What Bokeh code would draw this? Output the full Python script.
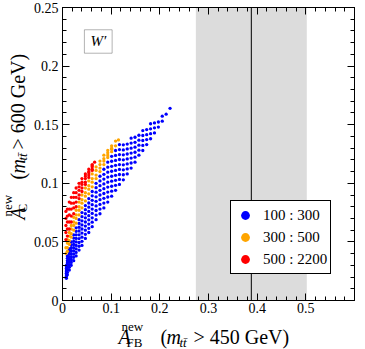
import math
from bokeh.plotting import figure
from bokeh.layouts import column, row
from bokeh.models import (BoxAnnotation, Span, Label, LinearAxis, SingleIntervalTicker,
                          NumeralTickFormatter, Range1d)
from bokeh.embed import file_html
from bokeh.resources import INLINE

FONT = "Liberation Serif"

# ---------------- data ----------------
# W' mass range 100 : 300 GeV  (blue) -- dotted curves of the scan, x grid shared
blue_grid = [0.008, 0.010, 0.014, 0.018, 0.023, 0.028, 0.034, 0.040, 0.047, 0.054, 0.061,
             0.069, 0.077, 0.085, 0.093, 0.101, 0.109, 0.117, 0.125, 0.133, 0.141, 0.149,
             0.157, 0.165, 0.173, 0.181, 0.189, 0.197, 0.205, 0.213, 0.221]
blue_rows = [
    [0.019, 0.022, 0.026, 0.030, 0.034, 0.038, 0.043, 0.047, 0.053, 0.058, 0.063, 0.069, 0.074,
     0.079, 0.084, 0.089, 0.094, 0.099, 0.103, 0.108, 0.113, 0.118, 0.124, 0.128, 0.133, 0.138,
     0.143, 0.148, 0.153, 0.159, 0.164],
    [0.0204, 0.024, 0.0283, 0.0325, 0.0368, 0.041, 0.0463, 0.0505, 0.0565, 0.0616, 0.0668,
     0.0729, 0.078, 0.0831, 0.0883, 0.0933, 0.0983, 0.1033, 0.1073, 0.1123, 0.1173, 0.1223,
     0.1283, 0.1323, 0.1373, 0.1423, 0.1473, 0.1523, 0.1573],
    [0.0218, 0.026, 0.0305, 0.035, 0.0395, 0.044, 0.0495, 0.054, 0.060, 0.0652, 0.0705, 0.0768,
     0.082, 0.0872, 0.0925, 0.0975, 0.1025, 0.1075, 0.1115, 0.1165, 0.1215, 0.1265, 0.1325,
     0.1365, 0.1415, 0.1465, 0.1515],
    [0.0232, 0.028, 0.0328, 0.0375, 0.0423, 0.047, 0.0528, 0.0575, 0.0635, 0.0688, 0.0743,
     0.0807, 0.086, 0.0913, 0.0968, 0.1018, 0.1068, 0.1118, 0.1158, 0.1208, 0.1258, 0.1308,
     0.1368, 0.1408, 0.1458, 0.1508],
    [0.0246, 0.030, 0.035, 0.040, 0.045, 0.050, 0.056, 0.061, 0.067, 0.0724, 0.078, 0.0846,
     0.090, 0.0954, 0.101, 0.106, 0.111, 0.116, 0.120, 0.125, 0.130, 0.135, 0.141, 0.145],
    [0.026, 0.032, 0.0373, 0.0425, 0.0478, 0.053, 0.0593, 0.0645, 0.0705, 0.076, 0.0818,
     0.0885, 0.094, 0.0995, 0.1053, 0.1103, 0.1153, 0.1203, 0.1243, 0.1293, 0.1343, 0.1393],
    [0.0274, 0.034, 0.0395, 0.045, 0.0505, 0.056, 0.0625, 0.068, 0.074, 0.0796, 0.0855,
     0.0924, 0.098, 0.1036, 0.1095, 0.1145, 0.1195, 0.1245, 0.1285, 0.1335, 0.1385],
    [0.0288, 0.036, 0.0418, 0.0475, 0.0533, 0.059, 0.0658, 0.0715, 0.0775, 0.0832, 0.0893,
     0.0963, 0.102, 0.1077, 0.1138, 0.1188, 0.1238, 0.1288, 0.1328],
    [0.030, 0.038, 0.044, 0.050, 0.056, 0.062, 0.069, 0.075, 0.081, 0.087, 0.093, 0.100,
     0.106, 0.112, 0.118, 0.123, 0.128, 0.133],
]

# W' mass range 300 : 500 GeV (orange)
orange_grid = [0.010, 0.014, 0.018, 0.023, 0.028, 0.034, 0.040, 0.047, 0.054, 0.061, 0.069,
               0.077, 0.085, 0.093, 0.101, 0.109, 0.115]
orange_rows = [
    [0.042, 0.048, 0.054, 0.060, 0.066, 0.073, 0.079, 0.085, 0.091, 0.097, 0.104, 0.110,
     0.116, 0.122, 0.127, 0.132, 0.137],
    [0.045, 0.051, 0.057, 0.064, 0.070, 0.077, 0.083, 0.089, 0.095, 0.101, 0.107, 0.113,
     0.119, 0.124, 0.129],
    [0.049, 0.055, 0.061, 0.067, 0.073, 0.080, 0.086, 0.092, 0.098, 0.104, 0.111, 0.116,
     0.121, 0.126, 0.130],
    [0.052, 0.058, 0.064, 0.071, 0.077, 0.084, 0.090, 0.096, 0.102, 0.108, 0.114, 0.119,
     0.124, 0.128, 0.132, 0.136],
]
orange_edge_x = [0.007, 0.007]
orange_edge_y = [0.040, 0.045]

# W' mass range 500 : 2200 GeV (red)
red_grid = [0.010, 0.014, 0.018, 0.023, 0.028, 0.034, 0.040, 0.047, 0.054, 0.061, 0.066]
red_rows = [
    [0.055, 0.061, 0.067, 0.074, 0.080, 0.087, 0.093, 0.099, 0.105, 0.111],
    [0.061, 0.067, 0.072, 0.079, 0.084, 0.090, 0.096, 0.101, 0.107, 0.112],
    [0.067, 0.073, 0.078, 0.083, 0.088, 0.094, 0.099, 0.104, 0.109, 0.114],
    [0.072, 0.078, 0.083, 0.088, 0.092, 0.097, 0.101, 0.106, 0.110, 0.115],
    [0.078, 0.084, 0.088, 0.092, 0.096, 0.100, 0.104, 0.108, 0.112, 0.116, 0.118],
]
red_edge_x = [0.007, 0.007, 0.007, 0.007, 0.007]
red_edge_y = [0.052, 0.058, 0.064, 0.070, 0.076]

legend_labels = ["100 : 300", "300 : 500", "500 : 2200"]
colors = ["#0000ff", "#ffa500", "#ff0000"]

# measured A_FB^new band (m_tt > 450 GeV)
afb_center = 0.388
afb_low = 0.274
afb_high = 0.502


def flatten(grid, rows):
    xs, ys = [], []
    for r in rows:
        for x, y in zip(grid, r):
            xs.append(x)
            ys.append(y)
    return xs, ys


bx, by = flatten(blue_grid, blue_rows)
ox, oy = flatten(orange_grid, orange_rows)
ox += orange_edge_x
oy += orange_edge_y
rx, ry = flatten(red_grid, red_rows)
rx += red_edge_x
ry += red_edge_y

# ---------------- layout sizes ----------------
W, H = 365, 349
YT_W = 30          # strip for the rotated y title
MAIN_H = 318       # main plot height (incl. tick labels)
XT_H = H - MAIN_H  # strip for the x title

# ---------------- main figure ----------------
p = figure(width=W - YT_W, height=MAIN_H, x_range=Range1d(0, 0.6), y_range=Range1d(0, 0.25),
           output_backend="svg", toolbar_location=None, title=None,
           min_border_left=60 - YT_W, min_border_right=11, min_border_top=7,
           min_border_bottom=MAIN_H - 300)
p.xgrid.visible = False
p.ygrid.visible = False
p.outline_line_color = "black"
p.outline_line_width = 1
p.background_fill_color = "white"
p.border_fill_color = "white"


def style_axis(ax, show_labels=True, standoff=4):
    ax.axis_line_color = "black"
    ax.major_tick_in = 7
    ax.major_tick_out = 0
    ax.minor_tick_in = 4
    ax.minor_tick_out = 0
    ax.major_tick_line_color = "black"
    ax.minor_tick_line_color = "black"
    ax.major_label_text_font = FONT
    if show_labels:
        ax.major_label_text_color = "black"
        ax.major_label_text_font_size = "14px"
        ax.major_label_standoff = standoff
    else:
        ax.major_label_text_color = None
        ax.major_label_text_font_size = "1px"
        ax.major_label_standoff = 0


xa = p.xaxis[0]
xa.ticker = SingleIntervalTicker(interval=0.1, num_minor_ticks=5)
xa.formatter = NumeralTickFormatter(format="0.[0]")
style_axis(xa, True, 2)
ya = p.yaxis[0]
ya.ticker = SingleIntervalTicker(interval=0.05, num_minor_ticks=5)
ya.formatter = NumeralTickFormatter(format="0.[00]")
style_axis(ya, True, 4)

top_ax = LinearAxis(ticker=SingleIntervalTicker(interval=0.1, num_minor_ticks=5))
style_axis(top_ax, False)
p.add_layout(top_ax, "above")
right_ax = LinearAxis(ticker=SingleIntervalTicker(interval=0.05, num_minor_ticks=5))
style_axis(right_ax, False)
p.add_layout(right_ax, "right")

# measurement band and central value
p.add_layout(BoxAnnotation(left=afb_low, right=afb_high, fill_color="#dcdcdc", fill_alpha=1.0,
                           line_color=None, level="underlay"))
p.add_layout(Span(location=afb_center, dimension="height", line_color="black", line_width=1))

# scatter points
p.scatter(bx, by, size=3.3, marker="circle", fill_color=colors[0], line_color=None,
          legend_label=legend_labels[0])
p.scatter(ox, oy, size=3.3, marker="circle", fill_color=colors[1], line_color=None,
          legend_label=legend_labels[1])
p.scatter(rx, ry, size=3.3, marker="circle", fill_color=colors[2], line_color=None,
          legend_label=legend_labels[2])

lg = p.legend[0]
lg.location = (168, 26)
lg.border_line_color = "black"
lg.border_line_width = 1
lg.border_line_alpha = 1
lg.background_fill_color = "white"
lg.background_fill_alpha = 1
lg.label_text_font = FONT
lg.label_text_font_size = "15px"
lg.label_text_color = "black"
lg.glyph_width = 22
lg.glyph_height = 22
lg.label_height = 22
lg.spacing = -5
lg.padding = 3
lg.margin = 0
lg.label_standoff = 7

# W' box
p.add_layout(BoxAnnotation(left=0.045, right=0.102, bottom=0.211, top=0.231,
                           fill_color="white", fill_alpha=1, line_color="black", line_width=1))
p.add_layout(Label(x=0.0735, y=0.221, text="W\u2032", text_font=FONT, text_font_style="italic",
                   text_font_size="15px", text_align="center", text_baseline="middle",
                   text_color="black"))


# ---------------- title strips ----------------
def strip(w, h):
    f = figure(width=w, height=h, x_range=Range1d(0, w), y_range=Range1d(0, h),
               x_axis_type=None, y_axis_type=None, output_backend="svg",
               toolbar_location=None, title=None, min_border=0)
    f.outline_line_color = None
    f.background_fill_color = "white"
    f.border_fill_color = "white"
    f.xgrid.visible = False
    f.ygrid.visible = False
    return f


def lab(f, x, y, text, size, italic=False, angle=0.0):
    f.add_layout(Label(x=x, y=y, x_units="screen", y_units="screen", text=text,
                       text_font=FONT, text_font_size=size,
                       text_font_style="italic" if italic else "normal",
                       text_align="left", text_baseline="alphabetic", text_color="black",
                       angle=angle))


# x-axis title: A_FB^new (m_tt > 450 GeV)   (x = page px, y = px above strip bottom)
xt = strip(W, XT_H)
lab(xt, 118, 13, "A", "20px", True)
lab(xt, 121, 23, "new", "13px")
lab(xt, 126, 7, "FB", "13px")
lab(xt, 160, 13, "(", "20px")
lab(xt, 166, 13, "m", "20px", True)
lab(xt, 179, 7, "tt\u0304", "13px", True)
lab(xt, 193, 13, "> 450 GeV)", "20px")

# y-axis title: A_C^new (m_tt > 600 GeV), rotated
yt = strip(YT_W, MAIN_H)
R = math.pi / 2
BASE = MAIN_H - 322
lab(yt, 17, BASE + 85, "A", "20px", True, R)
lab(yt, 7, BASE + 88, "new", "13px", False, R)
lab(yt, 22, BASE + 92, "C", "13px", False, R)
lab(yt, 17, BASE + 125, "(", "20px", False, R)
lab(yt, 17, BASE + 131, "m", "20px", True, R)
lab(yt, 22, BASE + 144, "tt\u0304", "13px", True, R)
lab(yt, 17, BASE + 155, "> 600 GeV)", "20px", False, R)

layout = column(row(yt, p, spacing=0), xt, spacing=0)

open("out.html", "w").write(file_html(layout, INLINE, title="plot"))
